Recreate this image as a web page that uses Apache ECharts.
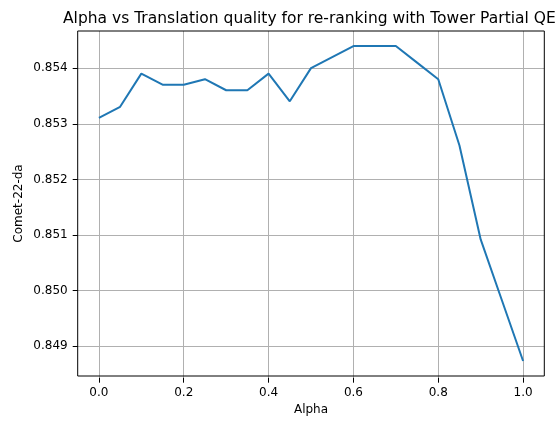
<!DOCTYPE html>
<html>
<head>
<meta charset="utf-8">
<script src="https://cdn.jsdelivr.net/npm/echarts@6/dist/echarts.min.js"></script>
<style>html,body{margin:0;padding:0;background:#fff}#c{width:558px;height:421px}</style>
</head>
<body>
<div id="c"></div>
<script>
const alpha = [0.0,0.05,0.1,0.15,0.2,0.25,0.3,0.35,0.4,0.45,0.5,0.55,0.6,0.65,0.7,0.75,0.8,0.85,0.9,0.95,1.0];
const comet = [0.8531,0.8533,0.8539,0.8537,0.8537,0.8538,0.8536,0.8536,0.8539,0.8534,0.8540,0.8542,0.8544,0.8544,0.8544,0.8541,0.8538,0.8526,0.8509,0.8498,0.8487];
const xTicks = [0,0.2,0.4,0.6,0.8,1.0];
const yTicks = [0.849,0.850,0.851,0.852,0.853,0.854];
const titleText = 'Alpha vs Translation quality for re-ranking with Tower Partial QE';

const FONT = 'DejaVu Sans';
const L = 77.7, R = 544.3, T = 31, B = 377.7;
const W = 558, H = 421;
const xMin = -0.05, xMax = 1.05;
const yMin = 0.848429, yMax = 0.854672;
const xPix = v => L + (v - xMin) / (xMax - xMin) * (R - L);
const yPix = v => B - (v - yMin) / (yMax - yMin) * (B - T);

const chart = echarts.init(document.getElementById('c'), null, {renderer:'canvas'});
const hidden = {show:false};
chart.setOption({
  animation:false,
  backgroundColor:'#fff',
  title:{text:titleText,left:58,top:6,textStyle:{fontFamily:FONT,fontSize:15.5,fontWeight:'normal',color:'#000'}},
  grid:[
    {left:L,right:W-R,top:T,bottom:H-B,show:true,borderColor:'#000',borderWidth:1,backgroundColor:'transparent',z:3},
    {left:xPix(xTicks[0]),right:W-xPix(xTicks[xTicks.length-1]),top:T,bottom:H-B},
    {left:L,right:W-R,top:yPix(yTicks[yTicks.length-1]),bottom:H-yPix(yTicks[0])}
  ],
  xAxis:[
    {type:'value',gridIndex:0,min:xMin,max:xMax,axisLine:hidden,axisTick:hidden,axisLabel:hidden,splitLine:hidden,
     name:'Alpha',nameLocation:'middle',nameGap:28,nameTextStyle:{fontFamily:FONT,fontSize:12,color:'#000'}},
    {type:'value',gridIndex:1,min:xTicks[0],max:xTicks[xTicks.length-1],interval:0.2,
     axisLine:hidden,
     axisTick:{show:true,length:5,lineStyle:{color:'#000',width:1}},
     axisLabel:{margin:9,fontFamily:FONT,fontSize:12,color:'#000',formatter:v=>v.toFixed(1)},
     splitLine:{show:true,lineStyle:{color:'#b0b0b0',width:1}}},
    {type:'value',gridIndex:2,min:0,max:1,show:false}
  ],
  yAxis:[
    {type:'value',gridIndex:0,min:yMin,max:yMax,axisLine:hidden,axisTick:hidden,axisLabel:hidden,splitLine:hidden,
     name:'Comet-22-da',nameLocation:'middle',nameGap:53,nameTextStyle:{fontFamily:FONT,fontSize:12,color:'#000'}},
    {type:'value',gridIndex:1,min:0,max:1,show:false},
    {type:'value',gridIndex:2,min:yTicks[0],max:yTicks[yTicks.length-1],interval:0.001,
     axisLine:hidden,
     axisTick:{show:true,length:5,lineStyle:{color:'#000',width:1}},
     axisLabel:{margin:10,fontFamily:FONT,fontSize:12,color:'#000',formatter:v=>v.toFixed(3)},
     splitLine:{show:true,lineStyle:{color:'#b0b0b0',width:1}}}
  ],
  series:[{
    type:'line',xAxisIndex:0,yAxisIndex:0,
    data:alpha.map((a,i)=>[a,comet[i]]),
    symbol:'none',lineStyle:{color:'#1f77b4',width:2},itemStyle:{color:'#1f77b4'},z:2
  }]
});
</script>
</body>
</html>
